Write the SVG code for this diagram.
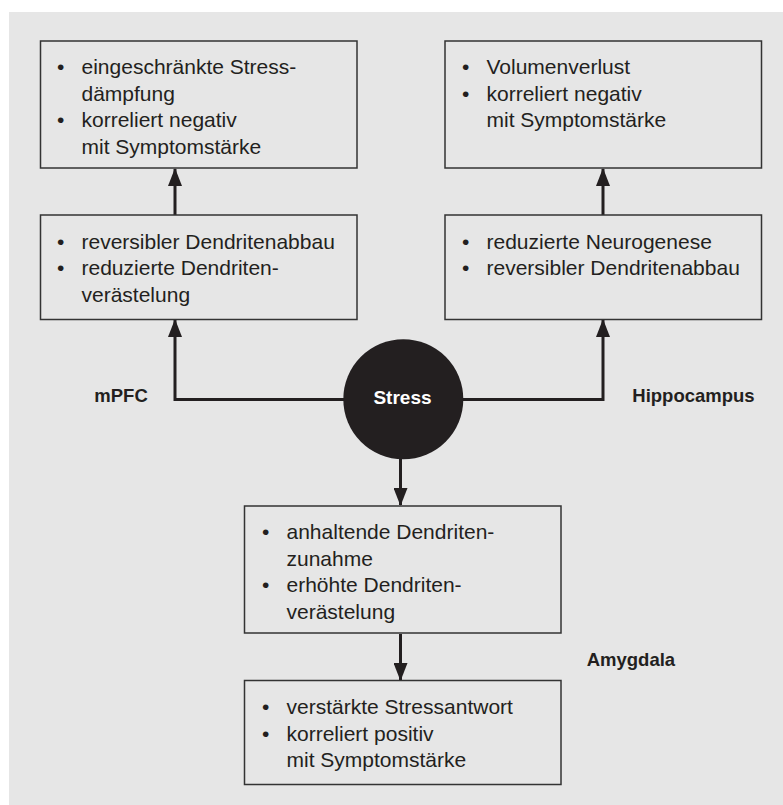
<svg xmlns="http://www.w3.org/2000/svg" width="783" height="805" viewBox="0 0 783 805">
<defs>
<style>
.box{fill:none;stroke:#333;stroke-width:1.5}
.t{font-family:"Liberation Sans",Arial,sans-serif;font-size:21px;fill:#231f20}
.lbl{font-family:"Liberation Sans",Arial,sans-serif;font-size:18.5px;font-weight:bold;fill:#231f20}
.ln{fill:none;stroke:#231f20;stroke-width:3}
</style>
<marker id="ah" markerWidth="18" markerHeight="14" refX="17" refY="7" orient="auto" markerUnits="userSpaceOnUse" viewBox="0 0 18 14">
<path d="M0,0 L18,7 L0,14 Z" fill="#231f20"/>
</marker>
</defs>
<rect x="0" y="0" width="783" height="805" fill="#ffffff"/>
<rect x="9" y="12" width="774" height="793" fill="#e6e6e6"/>

<g id="connectors">
<line class="ln" x1="175" y1="215" x2="175" y2="169" marker-end="url(#ah)"/>
<line class="ln" x1="603" y1="215" x2="603" y2="169" marker-end="url(#ah)"/>
<polyline class="ln" points="344,399.5 175,399.5 175,320" marker-end="url(#ah)"/>
<polyline class="ln" points="462,399.5 603,399.5 603,320" marker-end="url(#ah)"/>
<line class="ln" x1="400.5" y1="459" x2="400.5" y2="505" marker-end="url(#ah)"/>
<line class="ln" x1="400.5" y1="634" x2="400.5" y2="680" marker-end="url(#ah)"/>
</g>

<g id="mpfc-top">
<rect class="box" x="40.5" y="41" width="316.5" height="127"/>
<text class="t"><tspan x="57" y="74">•</tspan><tspan x="81.5" y="74">eingeschränkte Stress-</tspan><tspan x="81.5" y="100.7">dämpfung</tspan><tspan x="57" y="127.4">•</tspan><tspan x="81.5" y="127.4">korreliert negativ</tspan><tspan x="81.5" y="154">mit Symptomstärke</tspan></text>
</g>

<g id="hippo-top">
<rect class="box" x="445" y="41" width="316.5" height="127"/>
<text class="t"><tspan x="462" y="74">•</tspan><tspan x="486.5" y="74">Volumenverlust</tspan><tspan x="462" y="100.7">•</tspan><tspan x="486.5" y="100.7">korreliert negativ</tspan><tspan x="486.5" y="127.4">mit Symptomstärke</tspan></text>
</g>

<g id="mpfc-mid">
<rect class="box" x="40.5" y="215" width="316.5" height="104.5"/>
<text class="t"><tspan x="57" y="248.5">•</tspan><tspan x="81.5" y="248.5">reversibler Dendritenabbau</tspan><tspan x="57" y="275.2">•</tspan><tspan x="81.5" y="275.2">reduzierte Dendriten-</tspan><tspan x="81.5" y="301.9">verästelung</tspan></text>
</g>

<g id="hippo-mid">
<rect class="box" x="445" y="215" width="316.5" height="104.5"/>
<text class="t"><tspan x="462" y="248.5">•</tspan><tspan x="486.5" y="248.5">reduzierte Neurogenese</tspan><tspan x="462" y="275.2">•</tspan><tspan x="486.5" y="275.2">reversibler Dendritenabbau</tspan></text>
</g>

<g id="stress">
<circle cx="403.3" cy="399.3" r="60" fill="#231f20"/>
<text x="402.5" y="404" text-anchor="middle" font-family="'Liberation Sans',Arial,sans-serif" font-size="19" font-weight="bold" fill="#ffffff">Stress</text>
</g>

<g id="label-mpfc"><text class="lbl" x="94.3" y="401.7">mPFC</text></g>
<g id="label-hippocampus"><text class="lbl" x="632.3" y="401.7">Hippocampus</text></g>
<g id="label-amygdala"><text class="lbl" x="586.7" y="665.7">Amygdala</text></g>

<g id="amy-top">
<rect class="box" x="244.5" y="506" width="316.5" height="127"/>
<text class="t"><tspan x="262" y="539">•</tspan><tspan x="286.5" y="539">anhaltende Dendriten-</tspan><tspan x="286.5" y="565.7">zunahme</tspan><tspan x="262" y="592.4">•</tspan><tspan x="286.5" y="592.4">erhöhte Dendriten-</tspan><tspan x="286.5" y="619">verästelung</tspan></text>
</g>

<g id="amy-bottom">
<rect class="box" x="244.5" y="680.5" width="316.5" height="104"/>
<text class="t"><tspan x="262" y="714">•</tspan><tspan x="286.5" y="714">verstärkte Stressantwort</tspan><tspan x="262" y="740.7">•</tspan><tspan x="286.5" y="740.7">korreliert positiv</tspan><tspan x="286.5" y="767.4">mit Symptomstärke</tspan></text>
</g>
</svg>
